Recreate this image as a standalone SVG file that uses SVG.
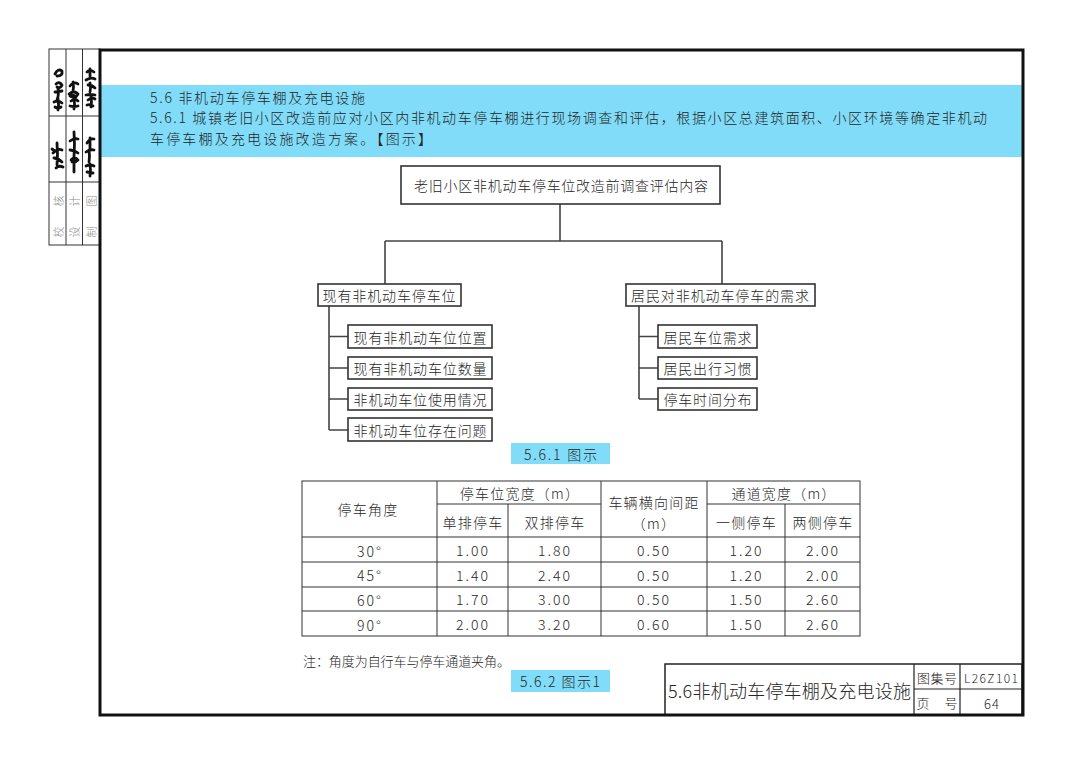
<svg xmlns="http://www.w3.org/2000/svg" width="1080" height="765" viewBox="0 0 1080 765">
<style>
.t{font-family:"Noto Sans CJK SC","Noto Sans",sans-serif;fill:#262626;font-weight:300;}
.box{fill:#fff;stroke:#333;stroke-width:1.6;}
.conn{stroke:#444;stroke-width:1.6;fill:none;}
.tb{stroke:#333;stroke-width:1;fill:none;}
.blue{fill:#80DCF8;}
.sig{stroke:#111;stroke-width:2.8;fill:none;stroke-linecap:round;stroke-linejoin:round;}
.gray{font-family:"Noto Sans CJK SC",sans-serif;fill:#8a8a8a;font-size:11px;font-weight:300;}
</style>
<rect x="0" y="0" width="1080" height="765" fill="#fff"/>

<!-- left strip -->
<g id="signature-strip">
<rect x="49" y="49" width="51" height="196" fill="#fff" stroke="#333" stroke-width="1"/>
<line x1="66" y1="49" x2="66" y2="245" stroke="#333" stroke-width="1"/>
<line x1="82.5" y1="49" x2="82.5" y2="245" stroke="#333" stroke-width="1"/>
<line x1="49" y1="116" x2="100" y2="116" stroke="#333" stroke-width="1"/>
<line x1="49" y1="182" x2="100" y2="182" stroke="#333" stroke-width="1"/>
<path class="sig" d="M55 74 q3 -6 7 -3 q1 5 -5 5 M56 84 q3 -3 6 1 q-2 4 -5 2 M55 92 l7 -1 M58 88 q1 8 -1 12 M54 102 q4 -2 8 1 M58 99 q1 6 0 11 M55 107 q3 2 6 0"/>
<path class="sig" d="M70 86 q4 -5 8 -2 M73 82 q1 5 0 9 M69 94 q5 -4 9 0 q-3 5 -8 2 q3 -2 6 1 M71 101 q4 -3 7 0 M74 98 q1 6 0 11 M70 106 q4 1 8 0"/>
<path class="sig" d="M87 72 q3 -3 7 0 M90 69 v7 M86 80 q5 -3 9 -1 M88 85 q4 0 7 3 M90 83 q1 5 0 9 M86 95 q5 -1 9 0 M88 100 q4 -3 7 -1 M91 97 q1 5 0 10 M87 105 q3 -1 6 1"/>
<path class="sig" d="M53 153 q5 -5 9 -3 M57 143 q1 11 0 22 M54 158 q4 0 8 4 M56 168 q3 -3 7 -1 M52 149 l3 2"/>
<path class="sig" d="M70 141 q4 -3 8 -2 M74 132 q1 12 0 25 M70 150 q4 0 8 3 M71 160 q4 -4 7 0 q-3 3 -6 2 M74 158 v14"/>
<path class="sig" d="M87 143 q3 -5 7 -4 M90 138 v10 M86 152 q4 -3 8 -2 M89 150 q1 6 0 12 M86 166 q4 -2 8 0 M90 164 q1 6 0 12 M87 172 l6 1"/>
<text class="gray" transform="translate(57.5,201) rotate(-90)" text-anchor="middle" dominant-baseline="central">核</text>
<text class="gray" transform="translate(57.5,232) rotate(-90)" text-anchor="middle" dominant-baseline="central">校</text>
<text class="gray" transform="translate(74,201) rotate(-90)" text-anchor="middle" dominant-baseline="central">计</text>
<text class="gray" transform="translate(74,232) rotate(-90)" text-anchor="middle" dominant-baseline="central">设</text>
<text class="gray" transform="translate(91,201) rotate(-90)" text-anchor="middle" dominant-baseline="central">图</text>
<text class="gray" transform="translate(91,232) rotate(-90)" text-anchor="middle" dominant-baseline="central">制</text>
</g>

<!-- header band -->
<g id="header">
<rect class="blue" x="101" y="85" width="921" height="72"/>
<text class="t" x="150" y="97" font-size="14" dominant-baseline="central" textLength="215" lengthAdjust="spacing">5.6 非机动车停车棚及充电设施</text>
<text class="t" x="150" y="117" font-size="14" dominant-baseline="central" textLength="837" lengthAdjust="spacing">5.6.1 城镇老旧小区改造前应对小区内非机动车停车棚进行现场调查和评估，根据小区总建筑面积、小区环境等确定非机动</text>
<text class="t" x="150" y="138" font-size="14" dominant-baseline="central" textLength="282" lengthAdjust="spacing">车停车棚及充电设施改造方案。【图示】</text>
</g>

<!-- connectors -->
<g id="connectors">
<path class="conn" d="M560 204 V241 M385 241 H722 M385 241 V284 M722 241 V284"/>
<path class="conn" d="M329 306 V430 M329 336.5 H348 M329 368 H348 M329 399 H348 M329 430 H348"/>
<path class="conn" d="M639 306 V399 M639 336.5 H658 M639 368 H658 M639 399 H658"/>
</g>

<!-- nodes -->
<g id="node-root">
<rect class="box" x="401" y="166" width="319" height="38"/>
<text class="t" x="561" y="185" font-size="14" text-anchor="middle" dominant-baseline="central" textLength="294" lengthAdjust="spacing">老旧小区非机动车停车位改造前调查评估内容</text>
</g>
<g id="node-existing">
<rect class="box" x="318" y="284" width="143" height="22"/>
<text class="t" x="389" y="295" font-size="14" text-anchor="middle" dominant-baseline="central" textLength="133" lengthAdjust="spacing">现有非机动车停车位</text>
</g>
<g id="node-demand">
<rect class="box" x="626" y="284" width="189" height="22"/>
<text class="t" x="720" y="295" font-size="14" text-anchor="middle" dominant-baseline="central" textLength="178" lengthAdjust="spacing">居民对非机动车停车的需求</text>
</g>
<g id="node-e1">
<rect class="box" x="348" y="325" width="144" height="23"/>
<text class="t" x="420" y="336.5" font-size="14" text-anchor="middle" dominant-baseline="central" textLength="133" lengthAdjust="spacing">现有非机动车位位置</text>
</g>
<g id="node-e2">
<rect class="box" x="348" y="357" width="144" height="22"/>
<text class="t" x="420" y="368" font-size="14" text-anchor="middle" dominant-baseline="central" textLength="133" lengthAdjust="spacing">现有非机动车位数量</text>
</g>
<g id="node-e3">
<rect class="box" x="348" y="388" width="144" height="22"/>
<text class="t" x="420" y="399" font-size="14" text-anchor="middle" dominant-baseline="central" textLength="133" lengthAdjust="spacing">非机动车位使用情况</text>
</g>
<g id="node-e4">
<rect class="box" x="348" y="418" width="144" height="23"/>
<text class="t" x="420" y="429.5" font-size="14" text-anchor="middle" dominant-baseline="central" textLength="133" lengthAdjust="spacing">非机动车位存在问题</text>
</g>
<g id="node-d1">
<rect class="box" x="658" y="325" width="99" height="23"/>
<text class="t" x="707.5" y="336.5" font-size="14" text-anchor="middle" dominant-baseline="central" textLength="88" lengthAdjust="spacing">居民车位需求</text>
</g>
<g id="node-d2">
<rect class="box" x="658" y="357" width="99" height="22"/>
<text class="t" x="707.5" y="368" font-size="14" text-anchor="middle" dominant-baseline="central" textLength="88" lengthAdjust="spacing">居民出行习惯</text>
</g>
<g id="node-d3">
<rect class="box" x="658" y="388" width="99" height="22"/>
<text class="t" x="707.5" y="399" font-size="14" text-anchor="middle" dominant-baseline="central" textLength="88" lengthAdjust="spacing">停车时间分布</text>
</g>

<g id="caption1">
<rect class="blue" x="511" y="443" width="99" height="21"/>
<text class="t" x="560.5" y="453.5" font-size="14" text-anchor="middle" dominant-baseline="central" textLength="73" lengthAdjust="spacing">5.6.1 图示</text>
</g>

<!-- table -->
<g id="table">
<rect class="tb" x="302" y="481" width="558" height="155"/>
<path class="tb" d="M437 481 V636 M508 504 V636 M601 481 V636 M707 481 V636 M785 504 V636 M437 504 H601 M707 504 H860 M302 537 H860 M302 562 H860 M302 587 H860 M302 611 H860"/>
<g class="t" font-size="14" letter-spacing="1.2" text-anchor="middle" dominant-baseline="central">
<text x="368" y="509">停车角度</text>
<text x="520" y="492.5">停车位宽度（m）</text>
<text x="473" y="522">单排停车</text>
<text x="555" y="522">双排停车</text>
<text x="654" y="502">车辆横向间距</text>
<text x="654" y="523">（m）</text>
<text x="784" y="492.5">通道宽度（m）</text>
<text x="746.5" y="522">一侧停车</text>
<text x="823" y="522">两侧停车</text>
</g>
<g class="t" font-size="14" letter-spacing="2" text-anchor="middle" dominant-baseline="central">
<text x="370" y="550.5">30°</text><text x="473" y="549.5">1.00</text><text x="555" y="549.5">1.80</text><text x="654" y="549.5">0.50</text><text x="746.5" y="549.5">1.20</text><text x="823" y="549.5">2.00</text>
<text x="370" y="575">45°</text><text x="473" y="574.5">1.40</text><text x="555" y="574.5">2.40</text><text x="654" y="574.5">0.50</text><text x="746.5" y="574.5">1.20</text><text x="823" y="574.5">2.00</text>
<text x="370" y="599.5">60°</text><text x="473" y="599">1.70</text><text x="555" y="599">3.00</text><text x="654" y="599">0.50</text><text x="746.5" y="599">1.50</text><text x="823" y="599">2.60</text>
<text x="370" y="625">90°</text><text x="473" y="623.5">2.00</text><text x="555" y="623.5">3.20</text><text x="654" y="623.5">0.60</text><text x="746.5" y="623.5">1.50</text><text x="823" y="623.5">2.60</text>
</g>
</g>

<g id="note">
<text class="t" x="303" y="660" font-size="13" dominant-baseline="central" textLength="207" lengthAdjust="spacing">注：角度为自行车与停车通道夹角。</text>
</g>

<g id="caption2">
<rect class="blue" x="511" y="670" width="99" height="22"/>
<text class="t" x="560" y="681" font-size="14" text-anchor="middle" dominant-baseline="central" textLength="80" lengthAdjust="spacing">5.6.2 图示1</text>
</g>

<!-- title block -->
<g id="title-block">
<rect x="665" y="664" width="357" height="51" fill="#fff" stroke="#222" stroke-width="1.5"/>
<path d="M914 664 V715 M960 664 V715 M914 689 H1022" stroke="#222" stroke-width="1.2" fill="none"/>
<text class="t" x="668" y="690" font-size="18" dominant-baseline="central" textLength="243" lengthAdjust="spacing">5.6非机动车停车棚及充电设施</text>
<text class="t" x="937" y="677" font-size="13" text-anchor="middle" dominant-baseline="central" textLength="40" lengthAdjust="spacing">图集号</text>
<text class="t" x="991" y="677" font-size="12" text-anchor="middle" dominant-baseline="central" textLength="54" lengthAdjust="spacing">L26Z101</text>
<text class="t" x="923" y="702" font-size="13" text-anchor="middle" dominant-baseline="central">页</text>
<text class="t" x="951" y="702" font-size="13" text-anchor="middle" dominant-baseline="central">号</text>
<text class="t" x="992" y="703" font-size="13" letter-spacing="1" text-anchor="middle" dominant-baseline="central">64</text>
</g>

<!-- outer frame -->
<g id="frame">
<rect x="100" y="50" width="923" height="665" fill="none" stroke="#111" stroke-width="3"/>
</g>
</svg>
